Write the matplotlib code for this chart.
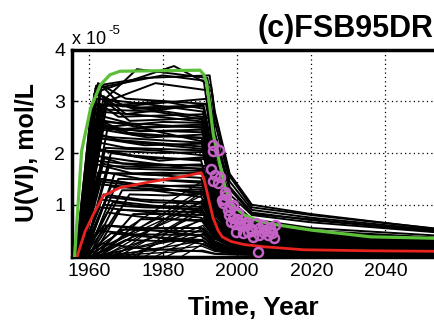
import numpy as np
import matplotlib
matplotlib.use('Agg')
import matplotlib.pyplot as plt
from matplotlib.ticker import FuncFormatter

plt.rcParams['font.family'] = ['Liberation Sans', 'DejaVu Sans']

# ---- ensemble runs with an early rise and a plateau (U(VI) in 1e-5 mol/L) ----
run_start = [1956.6, 1957.0, 1957.5, 1956.8, 1958.0, 1957.2, 1956.9,
             1956.5, 1957.0, 1957.3, 1956.7, 1958.0, 1957.8, 1956.9, 1957.4, 1956.6, 1958.3,
             1956.8, 1957.2, 1957.6, 1956.5, 1958.0, 1957.0, 1957.9, 1956.7, 1958.5, 1957.3,
             1956.9, 1957.5, 1958.2, 1956.6, 1957.8, 1957.1, 1958.6, 1957.0, 1957.4, 1956.8,
             1957.0, 1957.6, 1958.4, 1956.7, 1959.0, 1957.3, 1958.0, 1957.2, 1959.5, 1956.9,
             1957.5, 1958.5, 1957.0, 1960.0, 1958.0, 1957.2, 1961.0, 1958.8, 1957.8,
             1958.0, 1960.0, 1957.5, 1962.0, 1958.5, 1959.0, 1963.0, 1957.8,
             1958.5, 1960.5, 1958.0, 1962.5, 1959.0, 1957.5, 1961.0, 1958.2]
run_rise_yr = [1962.0, 1963.0, 1964.5, 1962.5, 1965.0, 1963.5, 1961.8,
               1961.5, 1962.2, 1963.0, 1961.0, 1964.0, 1963.2, 1962.0, 1962.8, 1960.8, 1964.5,
               1961.5, 1962.5, 1963.5, 1960.5, 1964.0, 1962.0, 1963.8, 1961.2, 1965.0, 1962.6,
               1961.8, 1963.0, 1964.5, 1960.8, 1963.5, 1962.2, 1966.0, 1961.5, 1962.8, 1961.0,
               1962.0, 1963.5, 1965.5, 1961.2, 1967.0, 1962.8, 1964.2, 1962.5, 1968.0, 1961.5,
               1963.0, 1966.0, 1962.0, 1969.0, 1964.0, 1962.4, 1971.0, 1965.0, 1963.5,
               1964.0, 1968.0, 1963.0, 1972.0, 1965.0, 1966.5, 1974.0, 1963.5,
               1965.0, 1969.0, 1964.0, 1973.0, 1966.0, 1962.5, 1970.0, 1963.8]
run_rise_val = [3.30, 3.20, 3.05, 3.35, 3.00, 3.30, 3.25,
                3.15, 3.05, 2.95, 2.85, 3.10, 2.90, 3.20, 2.80, 2.95, 3.00,
                2.75, 2.50, 2.60, 2.70, 2.50, 2.65, 2.45, 2.55, 2.45, 2.60,
                2.30, 2.20, 2.10, 2.10, 2.35, 2.05, 2.00, 2.30, 2.05, 2.35,
                1.85, 1.80, 1.75, 1.80, 1.60, 1.65, 1.90, 1.62, 1.50, 1.95,
                1.45, 1.35, 1.40, 1.28, 1.20, 1.50, 1.20, 1.15, 1.50,
                1.00, 0.90, 0.95, 0.82, 0.85, 1.05, 0.72, 1.10,
                0.60, 0.52, 0.60, 0.43, 0.45, 0.50, 0.32, 0.25]
run_mid_yr = [1975, 1983, 1973, 1970, 1978, 1969, 1980,
              1972, 1975, 1968, 1978, 1970, 1980, 1966, 1976, 1974, 1971,
              1975, 1968, 1977, 1972, 1980, 1970, 1976, 1974, 1979, 1969,
              1975, 1970, 1978, 1972, 1968, 1980, 1976, 1973, 1979, 1967,
              1975, 1970, 1978, 1972, 1980, 1974, 1969, 1977, 1979, 1971,
              1975, 1978, 1970, 1980, 1974, 1968, 1981, 1977, 1972,
              1975, 1978, 1970, 1982, 1976, 1973, 1983, 1969,
              1975, 1980, 1972, 1982, 1976, 1970, 1979, 1975]
run_mid_val = [3.45, 3.68, 3.62, 3.05, 3.35, 2.90, 3.50,
               2.85, 2.95, 2.70, 2.80, 2.75, 3.00, 2.95, 2.72, 2.88, 2.62,
               2.50, 2.45, 2.55, 2.35, 2.60, 2.55, 2.30, 2.42, 2.50, 2.40,
               2.15, 2.10, 2.05, 1.95, 2.25, 2.00, 1.90, 2.20, 1.85, 2.30,
               1.75, 1.70, 1.72, 1.60, 1.62, 1.50, 1.80, 1.58, 1.48, 1.85,
               1.35, 1.30, 1.35, 1.28, 1.10, 1.45, 1.18, 1.05, 1.40,
               0.95, 0.88, 0.90, 0.82, 0.75, 0.98, 0.72, 1.05,
               0.55, 0.50, 0.55, 0.42, 0.38, 0.45, 0.30, 0.15]
run_drop_yr = [1992.6, 1993.0, 1992.0, 1991.6, 1993.2, 1992.2, 1991.0,
               1991.0, 1990.8, 1991.5, 1990.5, 1992.0, 1991.2, 1990.6, 1991.8, 1990.9, 1992.3,
               1990.6, 1991.0, 1991.4, 1990.4, 1991.8, 1990.8, 1991.6, 1990.5, 1992.0, 1991.2,
               1990.7, 1991.0, 1991.5, 1990.3, 1991.3, 1990.9, 1991.8, 1990.6, 1991.1, 1990.4,
               1990.5, 1991.0, 1991.6, 1990.3, 1991.2, 1990.8, 1991.4, 1990.6, 1991.0, 1990.7,
               1990.6, 1991.0, 1990.4, 1991.2, 1990.8, 1991.0, 1991.4, 1990.5, 1990.9,
               1990.5, 1990.8, 1990.3, 1991.0, 1990.6, 1991.0, 1991.2, 1990.4,
               1990.5, 1990.8, 1990.3, 1991.0, 1990.6, 1990.2, 1990.9, 1990.5]
run_drop_val = [3.50, 3.30, 3.45, 2.95, 3.20, 3.05, 3.40,
                2.90, 2.80, 2.75, 2.65, 2.95, 2.85, 2.70, 2.60, 2.92, 2.68,
                2.55, 2.40, 2.48, 2.30, 2.58, 2.22, 2.36, 2.45, 2.52, 2.28,
                2.18, 2.05, 1.95, 1.85, 2.12, 2.02, 1.88, 2.08, 1.92, 2.20,
                1.78, 1.65, 1.70, 1.52, 1.60, 1.45, 1.75, 1.62, 1.42, 1.68,
                1.38, 1.25, 1.15, 1.30, 1.05, 1.20, 1.22, 1.02, 1.33,
                0.92, 0.85, 0.75, 0.80, 0.68, 0.96, 0.70, 0.88,
                0.55, 0.48, 0.40, 0.42, 0.32, 0.25, 0.30, 0.10]
run_1994 = [2.75, 2.80, 2.40, 2.00, 2.60, 2.25, 1.90,
            1.60, 1.50, 1.65, 1.35, 1.85, 1.55, 1.40, 1.60, 1.52, 1.75,
            1.30, 1.25, 1.35, 1.15, 1.45, 1.10, 1.30, 1.22, 1.50, 1.20,
            1.10, 1.02, 1.05, 0.90, 1.12, 1.00, 1.02, 1.04, 0.96, 1.08,
            0.88, 0.82, 0.90, 0.74, 0.82, 0.72, 0.90, 0.80, 0.70, 0.84,
            0.68, 0.62, 0.56, 0.65, 0.52, 0.60, 0.62, 0.50, 0.66,
            0.46, 0.42, 0.38, 0.40, 0.34, 0.48, 0.35, 0.44,
            0.28, 0.24, 0.20, 0.21, 0.16, 0.13, 0.15, 0.05]
run_1998 = [1.55, 1.60, 1.35, 1.20, 1.45, 1.30, 1.10,
            0.92, 0.88, 0.95, 0.80, 1.05, 0.90, 0.84, 0.93, 0.90, 0.98,
            0.78, 0.74, 0.80, 0.70, 0.85, 0.68, 0.76, 0.73, 0.86, 0.72,
            0.66, 0.62, 0.63, 0.56, 0.67, 0.61, 0.61, 0.63, 0.59, 0.65,
            0.54, 0.50, 0.54, 0.46, 0.49, 0.44, 0.54, 0.49, 0.43, 0.51,
            0.41, 0.38, 0.34, 0.40, 0.32, 0.36, 0.37, 0.31, 0.40,
            0.28, 0.26, 0.23, 0.25, 0.21, 0.29, 0.22, 0.27,
            0.17, 0.15, 0.12, 0.13, 0.10, 0.08, 0.09, 0.04]
run_2004 = [0.95, 1.00, 0.85, 0.80, 0.90, 0.82, 0.72,
            0.62, 0.58, 0.63, 0.55, 0.68, 0.60, 0.56, 0.61, 0.60, 0.64,
            0.52, 0.50, 0.53, 0.47, 0.56, 0.46, 0.51, 0.49, 0.57, 0.48,
            0.44, 0.42, 0.42, 0.38, 0.45, 0.41, 0.41, 0.42, 0.40, 0.44,
            0.36, 0.34, 0.36, 0.31, 0.33, 0.30, 0.36, 0.33, 0.29, 0.34,
            0.28, 0.26, 0.23, 0.27, 0.22, 0.25, 0.25, 0.21, 0.27,
            0.19, 0.18, 0.16, 0.17, 0.14, 0.20, 0.15, 0.18,
            0.12, 0.10, 0.08, 0.09, 0.07, 0.06, 0.06, 0.03]
run_2020 = [0.80, 0.82, 0.70, 0.66, 0.75, 0.72, 0.55,
            0.46, 0.44, 0.47, 0.42, 0.50, 0.45, 0.43, 0.46, 0.44, 0.48,
            0.39, 0.38, 0.40, 0.36, 0.42, 0.35, 0.39, 0.37, 0.43, 0.37,
            0.33, 0.32, 0.31, 0.29, 0.34, 0.31, 0.31, 0.32, 0.30, 0.33,
            0.27, 0.26, 0.27, 0.24, 0.25, 0.23, 0.27, 0.25, 0.22, 0.26,
            0.21, 0.19, 0.17, 0.20, 0.16, 0.18, 0.19, 0.16, 0.20,
            0.14, 0.13, 0.12, 0.13, 0.11, 0.15, 0.11, 0.14,
            0.09, 0.08, 0.06, 0.07, 0.05, 0.04, 0.05, 0.02]
run_2055 = [0.53, 0.52, 0.48, 0.46, 0.50, 0.47, 0.40,
            0.34, 0.32, 0.35, 0.31, 0.36, 0.33, 0.30, 0.33, 0.32, 0.35,
            0.28, 0.27, 0.29, 0.26, 0.30, 0.25, 0.28, 0.27, 0.31, 0.26,
            0.24, 0.23, 0.22, 0.21, 0.24, 0.22, 0.22, 0.23, 0.21, 0.24,
            0.19, 0.18, 0.19, 0.17, 0.18, 0.16, 0.19, 0.18, 0.15, 0.18,
            0.15, 0.13, 0.12, 0.14, 0.11, 0.13, 0.13, 0.11, 0.14,
            0.10, 0.09, 0.08, 0.09, 0.07, 0.10, 0.08, 0.09,
            0.06, 0.05, 0.04, 0.05, 0.04, 0.03, 0.03, 0.02]

# ---- ensemble runs with a slow linear build-up ----
slow_start = [1958.0, 1959.0, 1960.0, 1961.0, 1962.5, 1958.5, 1964.0, 1966.0, 1963.0, 1968.0, 1970.0,
              1960.5, 1972.0, 1965.0, 1975.0, 1959.5, 1978.0, 1967.0, 1981.0, 1962.0, 1973.0, 1985.0]
slow_drop_yr = [1990.5, 1991.0, 1990.3, 1990.8, 1990.6, 1990.4, 1991.0, 1990.7, 1990.5, 1991.2, 1990.8,
                1990.2, 1991.0, 1990.6, 1990.9, 1990.5, 1991.0, 1990.4, 1991.1, 1990.7, 1990.8, 1991.0]
slow_drop_val = [1.45, 1.20, 0.95, 1.30, 0.70, 1.05, 1.10, 0.85, 0.50, 0.95, 0.60,
                 0.40, 0.75, 0.30, 0.55, 0.20, 0.45, 1.25, 0.35, 0.12, 1.00, 0.25]
slow_1994 = [0.72, 0.60, 0.47, 0.64, 0.35, 0.52, 0.55, 0.42, 0.25, 0.47, 0.30,
             0.20, 0.37, 0.15, 0.27, 0.10, 0.22, 0.62, 0.17, 0.06, 0.50, 0.12]
slow_1998 = [0.44, 0.37, 0.29, 0.39, 0.21, 0.32, 0.33, 0.26, 0.15, 0.29, 0.18,
             0.12, 0.23, 0.09, 0.17, 0.06, 0.14, 0.38, 0.11, 0.04, 0.30, 0.08]
slow_2004 = [0.30, 0.25, 0.20, 0.26, 0.15, 0.22, 0.23, 0.18, 0.11, 0.20, 0.13,
             0.08, 0.16, 0.06, 0.11, 0.04, 0.09, 0.26, 0.07, 0.03, 0.21, 0.05]
slow_2020 = [0.22, 0.19, 0.15, 0.20, 0.11, 0.16, 0.17, 0.13, 0.08, 0.15, 0.10,
             0.06, 0.12, 0.05, 0.09, 0.03, 0.07, 0.19, 0.05, 0.02, 0.16, 0.04]
slow_2055 = [0.15, 0.13, 0.10, 0.14, 0.07, 0.11, 0.12, 0.09, 0.05, 0.10, 0.06,
             0.04, 0.08, 0.03, 0.06, 0.02, 0.05, 0.13, 0.04, 0.01, 0.11, 0.03]

tail_years = [1994, 1998, 2004, 2020, 2055]

# ---- highlighted runs ----
green_yr = [1956.2, 1958.1, 1960.5, 1963.1, 1965.7, 1968.4, 1990.0, 1991.0, 1991.8, 1992.6,
            1993.6, 1994.8, 1995.8, 1996.8, 1999.0, 2002.0, 2006.0, 2010.0, 2020.0, 2036.0, 2055.0]
green_val = [0.0, 2.04, 2.86, 3.31, 3.51, 3.58, 3.60, 3.52, 3.36, 2.92,
             2.35, 1.96, 1.64, 1.32, 0.97, 0.80, 0.68, 0.62, 0.51, 0.38, 0.35]
red_yr = [1956.9, 1957.4, 1959.0, 1961.3, 1963.9, 1968.4, 1977.2, 1985.0, 1990.3, 1991.0,
          1992.2, 1993.5, 1994.9, 1996.0, 1998.4, 2002.0, 2007.0, 2018.0, 2036.0, 2055.0]
red_val = [0.0, 0.12, 0.48, 0.82, 1.17, 1.33, 1.45, 1.54, 1.62, 1.52,
           1.15, 0.75, 0.50, 0.38, 0.29, 0.23, 0.19, 0.13, 0.11, 0.10]

# ---- field observations ----
obs_yr = [1993.6, 1995.0, 1993.6, 1993.1, 1994.0, 1995.3, 1993.6, 1994.9, 1997.0, 1996.2,
          1997.5, 1998.8, 2000.2, 2000.7, 2002.3, 2003.4, 2005.0, 2006.9, 2008.2, 2009.5,
          2010.3, 2010.0, 2004.2, 2001.5, 1999.6, 1998.3, 1996.5, 1997.8, 1999.0, 2001.0,
          2003.0, 2005.8, 2007.5, 2008.8, 2005.5, 1998.0, 1999.5, 2000.0, 2001.8, 2002.8,
          2004.0, 2006.0, 2007.0, 2009.0, 1996.8, 1995.8]
obs_val = [2.15, 2.06, 2.03, 1.70, 1.57, 1.54, 1.45, 1.42, 1.19, 1.03,
           0.90, 1.00, 0.84, 0.65, 0.67, 0.55, 0.65, 0.47, 0.41, 0.45,
           0.61, 0.36, 0.38, 0.45, 0.47, 0.67, 1.12, 0.80, 0.74, 0.58,
           0.48, 0.55, 0.52, 0.50, 0.08, 0.95, 0.62, 0.72, 0.62, 0.60,
           0.50, 0.42, 0.60, 0.55, 1.25, 1.10]

scale = 1e-5

fig = plt.figure(figsize=(4.35, 3.21), dpi=100)
ax = fig.add_axes([72 / 435, 1 - 256.5 / 321, 371 / 435, 207 / 321])

for i in range(len(run_start)):
    xs = [1955, run_start[i], run_rise_yr[i], run_mid_yr[i], run_drop_yr[i]] + tail_years
    ys = [0, 0, run_rise_val[i], run_mid_val[i], run_drop_val[i],
          run_1994[i], run_1998[i], run_2004[i], run_2020[i], run_2055[i]]
    ax.plot(xs, np.array(ys) * scale, color='black', lw=1.4, zorder=2)

for i in range(len(slow_start)):
    xs = [1955, slow_start[i], slow_drop_yr[i]] + tail_years
    ys = [0, 0, slow_drop_val[i], slow_1994[i], slow_1998[i], slow_2004[i], slow_2020[i], slow_2055[i]]
    ax.plot(xs, np.array(ys) * scale, color='black', lw=1.0, zorder=2)

ax.plot(red_yr, np.array(red_val) * scale, color='#e8231e', lw=2.0, zorder=3)
ax.plot(green_yr, np.array(green_val) * scale, color='#5cbf3a', lw=2.3, zorder=3)
ax.plot(obs_yr, np.array(obs_val) * scale, 'o', ms=6.5, mfc='none', mec='#c562c5', mew=1.8, zorder=4)

ax.set_xlim(1955.5, 2055.5)
ax.set_ylim(0, 4e-5)
ax.set_xticks([1960, 1980, 2000, 2020, 2040])
ax.set_yticks([1e-5, 2e-5, 3e-5, 4e-5])
ax.yaxis.set_major_formatter(FuncFormatter(lambda v, p: '%g' % round(v / scale, 6)))
ax.text(0.0, 1.025, 'x 10', transform=ax.transAxes, fontsize=13, ha='left', va='baseline')
ax.text(0.097, 1.075, '-5', transform=ax.transAxes, fontsize=9.5, ha='left', va='baseline')

ax.grid(True, color='black', linestyle=(0, (1, 2.5)), lw=0.9)
ax.set_axisbelow(True)
ax.tick_params(direction='in', length=4, width=1, labelsize=14, pad=5)
for s in ax.spines.values():
    s.set_linewidth(2.5)

ax.set_xlabel('Time, Year', fontsize=19, fontweight='bold')
ax.set_ylabel('U(VI), mol/L', fontsize=18, fontweight='bold')
ax.xaxis.set_label_coords(0.49, -0.19)
ax.yaxis.set_label_coords(-0.09, 0.5)

fig.text(433 / 435, 1 - 37 / 321, '(c)FSB95DR', ha='right', va='baseline',
         fontsize=22, fontweight='bold')

fig.savefig('out.png', dpi=100)
